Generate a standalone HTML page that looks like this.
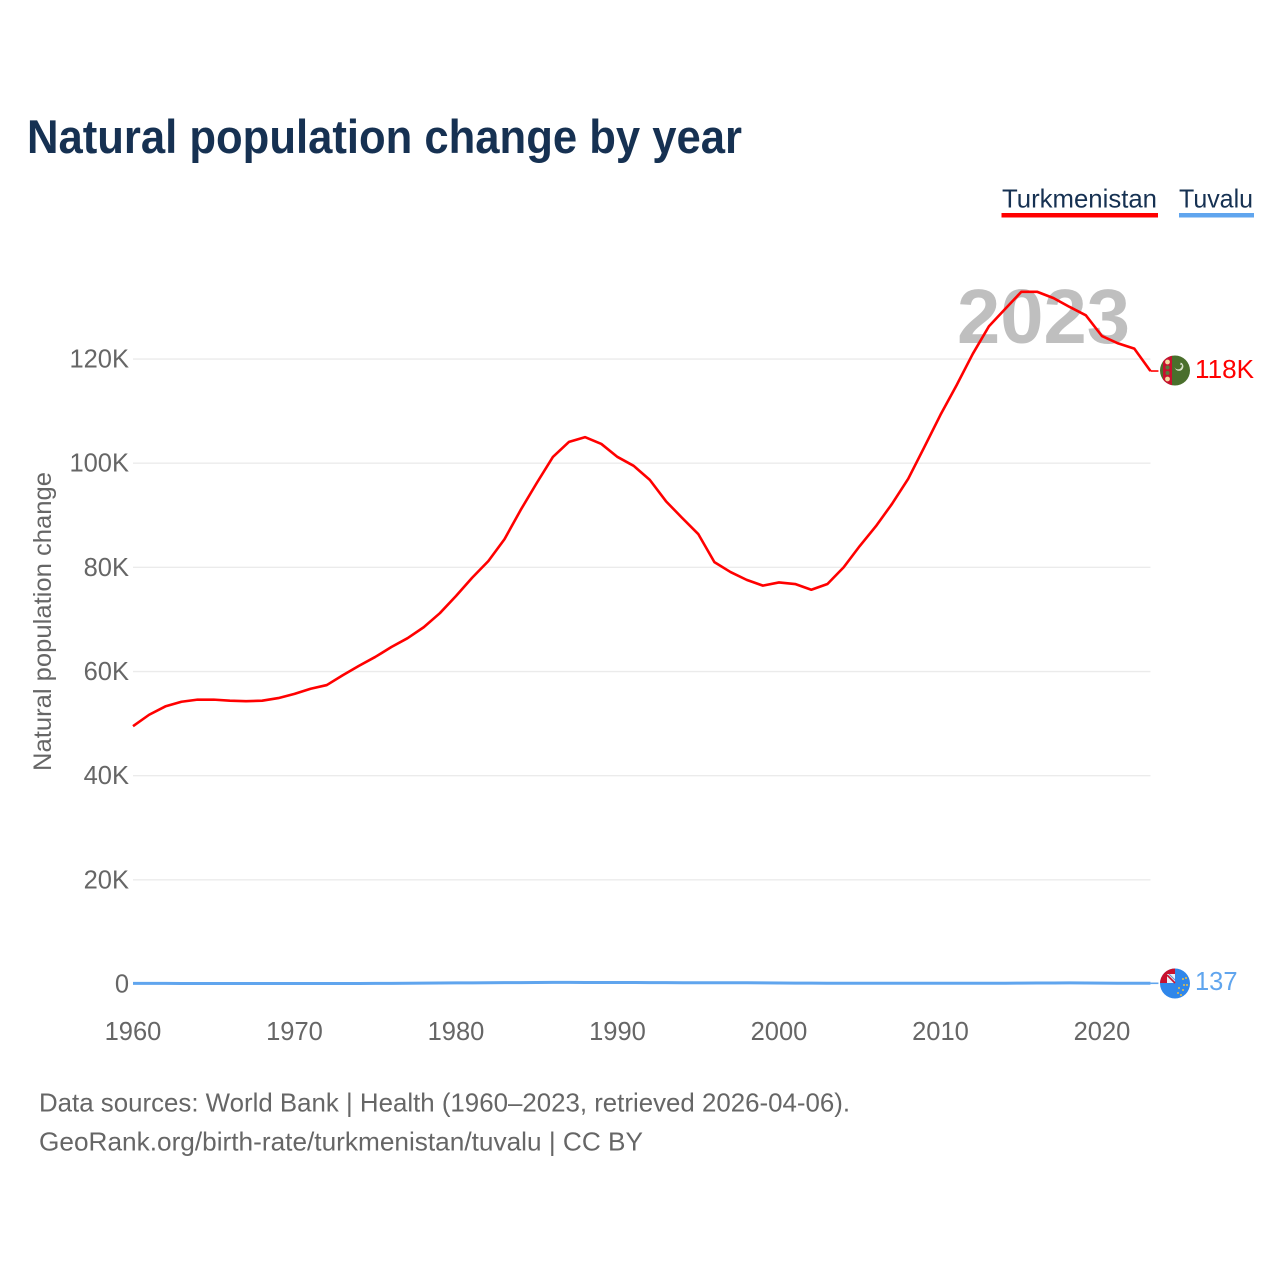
<!DOCTYPE html>
<html lang="en">
<head>
<meta charset="utf-8">
<title>Natural population change by year</title>
<style>
html,body{margin:0;padding:0;background:#fff;}
svg{display:block;}
text{font-family:"Liberation Sans",sans-serif;}
</style>
</head>
<body>
<svg id="chart" xmlns="http://www.w3.org/2000/svg" width="1280" height="1280" viewBox="0 0 1280 1280">
  <defs>
    <clipPath id="clip-tm"><circle cx="1175" cy="370.5" r="15"></circle></clipPath>
    <clipPath id="clip-tv"><circle cx="1175" cy="983.5" r="15"></circle></clipPath>
  </defs>
  <rect width="1280" height="1280" fill="#ffffff"></rect>
  <text x="27" y="153" font-size="47" font-weight="700" fill="#163152" textLength="715" lengthAdjust="spacingAndGlyphs">Natural population change by year</text>

  <g>
    <text x="1002" y="207.5" font-size="26" fill="#163152" textLength="155" lengthAdjust="spacingAndGlyphs">Turkmenistan</text>
    <rect x="1001.5" y="213" width="156.5" height="4.5" fill="#ff0000"></rect>
  </g>
  <g>
    <text x="1179" y="207.5" font-size="26" fill="#163152" textLength="74" lengthAdjust="spacingAndGlyphs">Tuvalu</text>
    <rect x="1179" y="213" width="75" height="4.5" fill="#60a5ee"></rect>
  </g>

  <g id="grid"></g>
  <text x="957" y="343" font-size="77" font-weight="700" fill="#bfbfbf" textLength="173" lengthAdjust="spacingAndGlyphs">2023</text>
  <g id="yticks"></g>
  <g id="xticks"></g>
  <text transform="translate(51,771) rotate(-90)" font-size="25" fill="#666666" textLength="299" lengthAdjust="spacingAndGlyphs">Natural population change</text>

  <path id="line-tuvalu" fill="none" stroke="#60a5ee" stroke-width="3" stroke-linejoin="round"></path>
  <path id="line-turkmenistan" fill="none" stroke="#ff0000" stroke-width="2.6" stroke-linejoin="round"></path>
  <line id="leader-tuvalu" stroke="#60a5ee" stroke-width="1.6"></line>
  <line id="leader-turkmenistan" stroke="#ff0000" stroke-width="1.6"></line>

  <g>
    <g clip-path="url(#clip-tm)">
      <rect x="1160" y="355" width="30" height="31" fill="#4a6f2c"></rect>
      <rect x="1163" y="355" width="9" height="31" fill="#c8102e"></rect>
      <circle cx="1167.5" cy="362" r="2.4" fill="#f3d9a0"></circle>
      <circle cx="1167.5" cy="367.5" r="2" fill="#5c7a3a"></circle>
      <circle cx="1167.5" cy="373" r="2" fill="#5c7a3a"></circle>
      <circle cx="1167.5" cy="379" r="2.4" fill="#f3d9a0"></circle>
      <circle cx="1179" cy="366.5" r="4.4" fill="#d8e2c8"></circle>
      <circle cx="1178" cy="365.5" r="3.9" fill="#4a6f2c"></circle>
      <circle cx="1181" cy="364" r="0.8" fill="#ffffff"></circle>
    </g>
  </g>
  <g>
    <g clip-path="url(#clip-tv)">
      <rect x="1160" y="968" width="30" height="31" fill="#2f86ea"></rect>
      <rect x="1160" y="968" width="15" height="15" fill="#c8102e"></rect>
      <rect x="1167" y="974" width="8" height="9" fill="#e8eef8"></rect>
      <path d="M1167 975 L1175 983" stroke="#c8102e" stroke-width="1.6"></path>
      <path d="M1169 974 L1175 980" stroke="#6c8fc8" stroke-width="1"></path>
      <circle cx="1183" cy="979" r="1" fill="#e5c04b"></circle>
      <circle cx="1186" cy="978" r="1" fill="#e5c04b"></circle>
      <circle cx="1184" cy="985" r="1" fill="#e5c04b"></circle>
      <circle cx="1187" cy="985" r="1" fill="#e5c04b"></circle>
      <circle cx="1179" cy="988" r="1" fill="#e5c04b"></circle>
      <circle cx="1183" cy="990" r="1" fill="#e5c04b"></circle>
      <circle cx="1178" cy="993" r="1" fill="#e5c04b"></circle>
      <circle cx="1181" cy="995" r="1" fill="#e5c04b"></circle>
    </g>
  </g>

  <text x="1195" y="378" font-size="25.5" fill="#ff0000" textLength="59" lengthAdjust="spacingAndGlyphs">118K</text>
  <text x="1195" y="990" font-size="25.5" fill="#60a5ee">137</text>

  <text x="39" y="1111.5" font-size="26" fill="#666666" textLength="811" lengthAdjust="spacingAndGlyphs">Data sources: World Bank | Health (1960–2023, retrieved 2026-04-06).</text>
  <text x="39" y="1150.5" font-size="26" fill="#666666" textLength="604" lengthAdjust="spacingAndGlyphs">GeoRank.org/birth-rate/turkmenistan/tuvalu | CC BY</text>
</svg>
<script>
const firstYear = 1960;
const yTickValues = [0, 20000, 40000, 60000, 80000, 100000, 120000];
const yTickLabels = ['0', '20K', '40K', '60K', '80K', '100K', '120K'];
const xTickYears = [1960, 1970, 1980, 1990, 2000, 2010, 2020];
const turkmenistan = [
  49500, 51700, 53300, 54200, 54600, 54600, 54400, 54300, 54400, 54900,
  55700, 56700, 57400, 59300, 61100, 62800, 64700, 66400, 68500, 71200,
  74500, 78000, 81200, 85400, 91000, 96200, 101200, 104100, 105000, 103700,
  101200, 99500, 96800, 92700, 89500, 86400, 81000, 79100, 77600, 76500,
  77100, 76800, 75700, 76800, 80000, 84100, 87900, 92200, 97000, 103100,
  109300, 115000, 121000, 126300, 129600, 132900, 132900, 131700, 130000, 128400,
  124400, 123000, 122000, 117700
];
const tuvalu = [
  130, 120, 110, 100, 90, 90, 90, 90, 90, 90,
  90, 90, 90, 90, 100, 110, 130, 150, 170, 190,
  210, 220, 240, 260, 270, 290, 310, 320, 300, 290,
  290, 280, 270, 260, 250, 250, 240, 240, 230, 210,
  190, 170, 160, 150, 150, 150, 150, 150, 150, 150,
  150, 150, 150, 150, 150, 170, 180, 190, 210, 190,
  170, 150, 140, 137
];

const svgNS = 'http://www.w3.org/2000/svg';
function xScale(year) { return 133 + (year - 1960) * 16.15; }
function yScale(value) { return 984 - value * 0.005208; }
function linePath(series) {
  return series.map(function (v, i) {
    return (i ? 'L' : 'M') + xScale(firstYear + i).toFixed(2) + ' ' + yScale(v).toFixed(2);
  }).join(' ');
}
function setLeader(id, series) {
  const last = series[series.length - 1];
  const leader = document.getElementById(id);
  const lastX = xScale(firstYear + series.length - 1);
  leader.setAttribute('x1', lastX);
  leader.setAttribute('x2', lastX + 8);
  leader.setAttribute('y1', yScale(last));
  leader.setAttribute('y2', yScale(last));
}

const grid = document.getElementById('grid');
const yticks = document.getElementById('yticks');
const xticks = document.getElementById('xticks');

yTickValues.forEach(function (v, i) {
  if (v !== 0) {
    const gl = document.createElementNS(svgNS, 'line');
    gl.setAttribute('x1', xScale(1960));
    gl.setAttribute('x2', xScale(2023));
    gl.setAttribute('y1', yScale(v));
    gl.setAttribute('y2', yScale(v));
    gl.setAttribute('stroke', '#ebebeb');
    gl.setAttribute('stroke-width', '1.4');
    
    
    grid.appendChild(gl);
  }
  const t = document.createElementNS(svgNS, 'text');
  t.setAttribute('x', 129);
  t.setAttribute('y', yScale(v) + 8.5);
  t.setAttribute('text-anchor', 'end');
  t.setAttribute('font-size', '25.5');
  t.setAttribute('fill', '#666666');
  t.textContent = yTickLabels[i];
  
  
  yticks.appendChild(t);
});

xTickYears.forEach(function (year) {
  const t = document.createElementNS(svgNS, 'text');
  t.setAttribute('x', xScale(year));
  t.setAttribute('y', 1040);
  t.setAttribute('text-anchor', 'middle');
  t.setAttribute('font-size', '25.5');
  t.setAttribute('fill', '#666666');
  t.textContent = String(year);
  
  
  xticks.appendChild(t);
});

document.getElementById('line-turkmenistan').setAttribute('d', linePath(turkmenistan));
document.getElementById('line-tuvalu').setAttribute('d', linePath(tuvalu));
setLeader('leader-turkmenistan', turkmenistan);
setLeader('leader-tuvalu', tuvalu);
</script>
</body>
</html>
